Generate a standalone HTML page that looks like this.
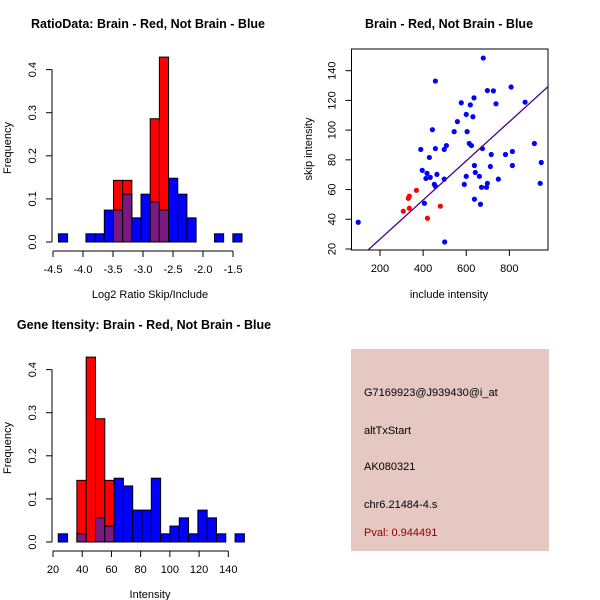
<!DOCTYPE html>
<html><head><meta charset="utf-8"><style>
body{margin:0;background:#fff;}
svg{display:block;font-family:"Liberation Sans",sans-serif;}
</style></head><body>
<svg id="s" width="600" height="600" viewBox="0 0 600 600">
<rect width="600" height="600" fill="#fff"/>
</svg>
<script>
// ---- Ratio histogram data ----
const ratioBinStart = -4.41;
const ratioBinWidth = 0.153;
const ratioBlue = [0.019,0,0,0.019,0.019,0.074,0.074,0.111,0.056,0.111,0.093,0.074,0.148,0.111,0.056,0,0,0.019,0,0.019];
const ratioRed  = [0,0,0,0,0,0,0.143,0.143,0,0,0.286,0.429,0,0,0,0,0,0,0,0];
const ratioXTicks = [-4.5,-4.0,-3.5,-3.0,-2.5,-2.0,-1.5];
const freqTicks = [0,0.1,0.2,0.3,0.4];
// ---- Intensity histogram data ----
const intBinStart = 23.6;
const intBinWidth = 6.37;
const intBlue = [0.019,0,0.019,0,0.056,0.037,0.148,0.13,0.074,0.074,0.148,0.019,0.037,0.056,0.019,0.074,0.056,0.019,0,0.019];
const intRed  = [0,0,0.143,0.429,0.286,0.143,0,0,0,0,0,0,0,0,0,0,0,0,0,0];
const intXTicks = [20,40,60,80,100,120,140];
// ---- Scatter data ----
const blueX = [99,679,457,808,698,726,636,738,577,619,873,600,631,559,443,544,604,614,624,916,389,457,498,508,675,429,814,716,782,948,396,814,712,638,418,464,642,433,600,661,413,498,749,452,457,591,698,943,671,694,638,666,406,500];
const blueY = [38,148.5,133,129,126.6,126.4,121.7,117.7,118.4,117,118.8,110.6,109,105.7,100.3,99,99,91,89.6,91,87,87.6,87,89.6,87.6,81.6,85.6,83.6,83.6,78.2,72.9,76.2,75.5,76.2,70.9,70.2,71.5,68.2,68.9,68.9,67.5,67,67,63.5,62.2,63.5,64.2,64.2,61.5,61.5,53.5,50.1,50.8,24.7];
const redX = [308,331,336,336,369,420,480];
const redY = [45.4,54.1,55.5,47.4,59.5,40.7,48.8];
const fitSlope = 0.1317, fitIntercept = 0.3;
const scXTicks = [200,400,600,800];
const scYTicks = [20,40,60,80,100,120,140];

const NS="http://www.w3.org/2000/svg";
const svg=document.getElementById('s');
function mk(tag,attrs,parent,name,inter){const e=document.createElementNS(NS,tag);for(const k in attrs)e.setAttribute(k,attrs[k]);


(parent||svg).appendChild(e);return e;}
function txt(x,y,s,opts,name){const t=mk('text',Object.assign({x:x,y:y,'font-size':11,'text-anchor':'middle',fill:'#000'},opts||{}),null,name);t.textContent=s;return t;}

function hist(opt){
  const g=mk('g',{},svg,opt.name);
  const sx=v=>opt.x0+(v-opt.v0)*opt.kx;
  const sy=v=>opt.yBase-v*opt.ky;
  for(let i=0;i<opt.blue.length;i++){
    const b=opt.blue[i], r=opt.red[i];
    const xa=sx(opt.start+i*opt.w), xb=sx(opt.start+(i+1)*opt.w);
    const mx=Math.max(b,r), mn=Math.min(b,r);
    if(mx>0){
      mk('rect',{x:xa,y:sy(mx),width:xb-xa,height:sy(0)-sy(mx),fill:r>b?'#ff0000':'#0000ff',stroke:'#000','stroke-width':1},g,'bar-'+i);
    }
    if(mn>0){
      mk('rect',{x:xa,y:sy(mn),width:xb-xa,height:sy(0)-sy(mn),fill:'#7a1a80',stroke:'#000','stroke-width':1},g,'overlap-bar-'+i);
    }
  }
  const yAx=opt.yAxisX;
  mk('line',{x1:yAx,y1:sy(0),x2:yAx,y2:sy(0.4),stroke:'#000'},g,'y-axis');
  freqTicks.forEach(t=>{mk('line',{x1:yAx-6,y1:sy(t),x2:yAx,y2:sy(t),stroke:'#000'},g,'y-tick');
    const tt=mk('text',{x:0,y:0,'font-size':11,'text-anchor':'middle',transform:`translate(${yAx-16},${sy(t)}) rotate(-90)`},g,'y-tick-label');tt.textContent=t===0?'0.0':String(t);});
  const ya=opt.xAxisY;
  mk('line',{x1:sx(opt.ticks[0]),y1:ya,x2:sx(opt.ticks[opt.ticks.length-1]),y2:ya,stroke:'#000'},g,'x-axis');
  opt.ticks.forEach(t=>{mk('line',{x1:sx(t),y1:ya,x2:sx(t),y2:ya+6,stroke:'#000'},g,'x-tick');
    const tt=mk('text',{x:sx(t),y:ya+22,'font-size':11,'text-anchor':'middle'},g,'x-tick-label');tt.textContent=opt.fmt(t);});
  txt(150,opt.xAxisY+47,opt.xlabel,{},'x-axis-title');
  const yl=mk('text',{x:0,y:0,'font-size':11,'text-anchor':'middle',transform:`translate(11,${opt.yBase-94}) rotate(-90)`},g,'y-axis-title');yl.textContent='Frequency';
  txt(opt.titleX,opt.titleY,opt.title,{'font-weight':'bold','font-size':12.5},'chart-title');
}
hist({name:'ratio-histogram',blue:ratioBlue,red:ratioRed,start:ratioBinStart,w:ratioBinWidth,x0:53,v0:-4.5,kx:60,yBase:242,ky:431,yAxisX:52,xAxisY:251,ticks:ratioXTicks,fmt:t=>t.toFixed(1),xlabel:'Log2 Ratio Skip/Include',title:'RatioData: Brain - Red, Not Brain - Blue',titleX:148,titleY:28});
hist({name:'intensity-histogram',blue:intBlue,red:intRed,start:intBinStart,w:intBinWidth,x0:53,v0:20,kx:1.461,yBase:542,ky:431,yAxisX:52,xAxisY:551,ticks:intXTicks,fmt:t=>String(t),xlabel:'Intensity',title:'Gene Itensity: Brain - Red, Not Brain - Blue',titleX:144,titleY:329});

(function(){
  const g=mk('g',{},svg,'scatter-plot');
  const sx=v=>380+(v-200)*0.2156;
  const sy=v=>249-(v-20)*1.486;
  const L=351.5,R=548,T=49,B=250;
  mk('rect',{x:L,y:T,width:R-L,height:B-T,fill:'none',stroke:'#000'},g,'plot-frame');
  const cp=mk('clipPath',{id:'cp'},g,'clip');mk('rect',{x:L,y:T,width:R-L,height:B-T},cp,'clip-rect');
  blueX.forEach((x,i)=>mk('circle',{cx:sx(x),cy:sy(blueY[i]),r:2.6,fill:'#0000ff'},g,'point-blue'));
  redX.forEach((x,i)=>mk('circle',{cx:sx(x),cy:sy(redY[i]),r:2.6,fill:'#ff0000'},g,'point-red'));
  const x1=0,x2=1100;
  mk('line',{x1:sx(x1),y1:sy(fitIntercept+fitSlope*x1),x2:sx(x2),y2:sy(fitIntercept+fitSlope*x2),stroke:'#4b0082','stroke-width':1.3,'clip-path':'url(#cp)'},g,'fit-line');
  scXTicks.forEach(t=>{mk('line',{x1:sx(t),y1:B,x2:sx(t),y2:B+6,stroke:'#000'},g,'x-tick');
    const tt=mk('text',{x:sx(t),y:B+22,'font-size':11,'text-anchor':'middle'},g,'x-tick-label');tt.textContent=t;});
  scYTicks.forEach(t=>{mk('line',{x1:L-6,y1:sy(t),x2:L,y2:sy(t),stroke:'#000'},g,'y-tick');
    const tt=mk('text',{x:0,y:0,'font-size':11,'text-anchor':'middle',transform:`translate(${L-16},${sy(t)}) rotate(-90)`},g,'y-tick-label');tt.textContent=t;});
  txt(449,298,'include intensity',{},'x-axis-title');
  const yl=mk('text',{x:0,y:0,'font-size':11,'text-anchor':'middle',transform:`translate(312,149) rotate(-90)`},g,'y-axis-title');yl.textContent='skip intensity';
  txt(449,28,'Brain - Red, Not Brain - Blue',{'font-weight':'bold','font-size':12.5},'chart-title');
})();

(function(){
  const g=mk('g',{},svg,'info-panel');
  mk('rect',{x:351,y:349,width:198,height:202,fill:'#e6c8c2'},g,'info-background');
  const lines=[['G7169923@J939430@i_at',396,'#000','probe-id'],['altTxStart',434,'#000','event-type'],['AK080321',470,'#000','accession'],['chr6.21484-4.s',508,'#000','locus'],['Pval: 0.944491',536,'#8b0000','p-value']];
  lines.forEach(l=>{const t=mk('text',{x:364,y:l[1],'font-size':11,fill:l[2]},g,l[3]);t.textContent=l[0];});
})();
</script>
</body></html>
